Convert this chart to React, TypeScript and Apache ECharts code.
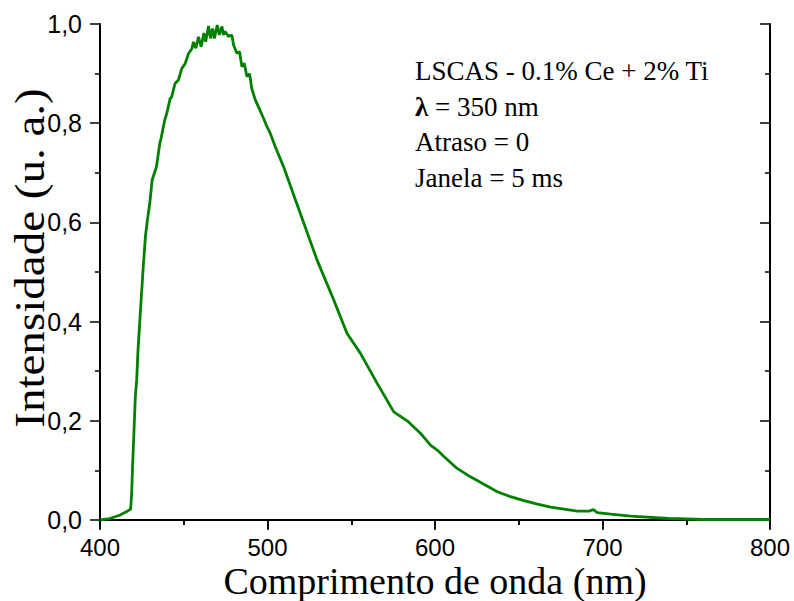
import React, { useEffect, useRef } from "react";
import * as echarts from "echarts";

// Emission spectrum (normalised intensity vs wavelength)
const wavelengthNm: number[] = [
  400, 406, 412, 416, 418.3, 418.9, 419.5, 420.3, 421.1, 421.9,
  422.7, 424.3, 425.7, 427.1, 428.3, 429.7, 431.1, 433.7, 435.7, 436.5,
  438.6, 439.9, 441.9, 442.8, 444.8, 446.8, 448.8, 450.8, 452.8, 454.8,
  455.8, 457.2, 458.8, 460.4, 462.0, 463.1, 464.8, 466.0, 467.2, 468.3,
  470.0, 471.2, 472.8, 473.7, 474.7, 476.7, 478.7, 479.7, 481.7, 483.3,
  484.7, 486.1, 487.7, 489.3, 490.6, 492.7, 494.6, 497.6, 499.7, 501.6,
  504.6, 509.6, 519.6, 529.6, 539.5, 547.5, 555.5, 565.4, 575.4, 583.4,
  591.3, 597.3, 601.3, 605.3, 613.2, 621.2, 629.2, 637.2, 645.1, 653.1,
  661.1, 669.1, 677, 685, 692, 694.5, 696.9, 704.9, 716.9, 739.6,
  760, 800,
];

const intensity: number[] = [
  0.0, 0.003, 0.01, 0.017, 0.022, 0.054, 0.114, 0.18, 0.249, 0.282,
  0.343, 0.43, 0.504, 0.571, 0.605, 0.638, 0.685, 0.712, 0.759, 0.77,
  0.806, 0.82, 0.85, 0.853, 0.88, 0.887, 0.91, 0.92, 0.94, 0.95,
  0.964, 0.951, 0.974, 0.954, 0.982, 0.964, 0.996, 0.971, 0.991, 0.971,
  0.998, 0.978, 0.995, 0.978, 0.985, 0.975, 0.978, 0.958, 0.941, 0.944,
  0.914, 0.921, 0.894, 0.9, 0.87, 0.847, 0.833, 0.81, 0.793, 0.78,
  0.753, 0.712, 0.618, 0.524, 0.444, 0.376, 0.336, 0.276, 0.218, 0.2,
  0.175, 0.151, 0.141, 0.128, 0.104, 0.087, 0.072, 0.057, 0.047, 0.039,
  0.032, 0.026, 0.022, 0.018, 0.018, 0.021, 0.015, 0.012, 0.008, 0.003,
  0.001, 0.001,
];

const annotationLines: string[] = [
  "LSCAS - 0.1% Ce + 2% Ti",
  "{b|λ} = 350 nm",
  "Atraso = 0",
  "Janela = 5 ms",
];

const xTitle = "Comprimento de onda (nm)";
const yTitle = "Intensidade (u. a.)";

const SANS = "'Liberation Sans', Arial, sans-serif";
const SERIF = "'Liberation Serif', 'Times New Roman', serif";
const INK = "#000";
const GREEN = "#008000";

export default function App() {
  const ref = useRef<HTMLDivElement>(null);

  useEffect(() => {
    if (!ref.current) return;
    const chart = echarts.init(ref.current, null, { renderer: "svg" });

    const plotLeft = 100;
    const plotTop = 24;
    const plotWidth = 670;
    const zeroToOne = 496; // pixel height between 0 and 1 on the intensity scale
    const frameHeight = 500; // frame extends slightly below zero
    const frameMin = -(frameHeight - zeroToOne) / zeroToOne;

    const axisLine = { show: true, lineStyle: { color: INK, width: 2 } };
    const tickStyle = { color: INK, width: 1.5 };

    const data = wavelengthNm.map((w, i) => [w, intensity[i]]);

    chart.setOption({
      animation: false,
      backgroundColor: "#fff",
      grid: [
        { left: plotLeft, top: plotTop, width: plotWidth, height: frameHeight, containLabel: false },
        { left: plotLeft, top: plotTop, width: plotWidth, height: zeroToOne, containLabel: false },
      ],
      xAxis: [
        {
          type: "value", gridIndex: 0, position: "bottom", min: 400, max: 800, interval: 100,
          axisLine,
          axisTick: { show: true, inside: false, length: 9, lineStyle: tickStyle },
          minorTick: { show: true, splitNumber: 2, length: 5, lineStyle: tickStyle },
          axisLabel: { show: true, color: INK, fontFamily: SANS, fontSize: 24, margin: 11 },
          splitLine: { show: false },
        },
        {
          type: "value", gridIndex: 0, position: "top", min: 400, max: 800, interval: 100,
          axisLine,
          axisTick: { show: true, inside: true, length: 10, lineStyle: tickStyle },
          minorTick: { show: true, splitNumber: 2, length: 5, lineStyle: tickStyle },
          axisLabel: { show: false },
          splitLine: { show: false },
        },
        { type: "value", gridIndex: 1, min: 400, max: 800, show: false },
      ],
      yAxis: [
        {
          type: "value", gridIndex: 0, position: "left", min: frameMin, max: 1,
          axisLine, axisTick: { show: false }, axisLabel: { show: false }, splitLine: { show: false },
        },
        {
          type: "value", gridIndex: 0, position: "right", min: frameMin, max: 1,
          axisLine, axisTick: { show: false }, axisLabel: { show: false }, splitLine: { show: false },
        },
        {
          type: "value", gridIndex: 1, position: "left", min: 0, max: 1, interval: 0.2,
          axisLine: { show: false },
          axisTick: { show: true, inside: false, length: 10, lineStyle: tickStyle },
          minorTick: { show: true, splitNumber: 2, length: 5, lineStyle: tickStyle },
          axisLabel: {
            show: true, color: INK, fontFamily: SANS, fontSize: 25, margin: 18,
            formatter: (v: number) => v.toFixed(1).replace(".", ","),
          },
          splitLine: { show: false },
        },
        {
          type: "value", gridIndex: 1, position: "right", min: 0, max: 1, interval: 0.2,
          axisLine: { show: false },
          axisTick: { show: true, inside: true, length: 10, lineStyle: tickStyle },
          minorTick: { show: true, splitNumber: 2, length: 5, lineStyle: tickStyle },
          axisLabel: { show: false },
          splitLine: { show: false },
        },
      ],
      series: [
        {
          type: "line", xAxisIndex: 0, yAxisIndex: 0, data,
          showSymbol: false, symbol: "none", smooth: false,
          lineStyle: { color: GREEN, width: 2.8 },
          clip: true,
        },
      ],
      graphic: [
        ...annotationLines.map((t, i) => ({
          type: "text",
          x: 415,
          y: 71 + i * 35.5,
          style: {
            text: t,
            font: `27px ${SERIF}`,
            fill: INK,
            textAlign: "left",
            textVerticalAlign: "middle",
            rich: { b: { fontWeight: "bold", fontSize: 27, fontFamily: SERIF } },
          },
        })),
        {
          type: "text",
          x: 435,
          y: 581,
          style: { text: xTitle, font: `38px ${SERIF}`, fill: INK, textAlign: "center", textVerticalAlign: "middle" },
        },
        {
          type: "text",
          x: 30,
          y: 258,
          rotation: Math.PI / 2,
          scaleX: 1.12,
          style: { text: yTitle, font: `42px ${SERIF}`, fill: INK, textAlign: "center", textVerticalAlign: "middle" },
        },
      ],
    });

    return () => chart.dispose();
  }, []);

  return <div ref={ref} style={{ width: 794, height: 601, position: "absolute", left: 0, top: 0 }} />;
}
